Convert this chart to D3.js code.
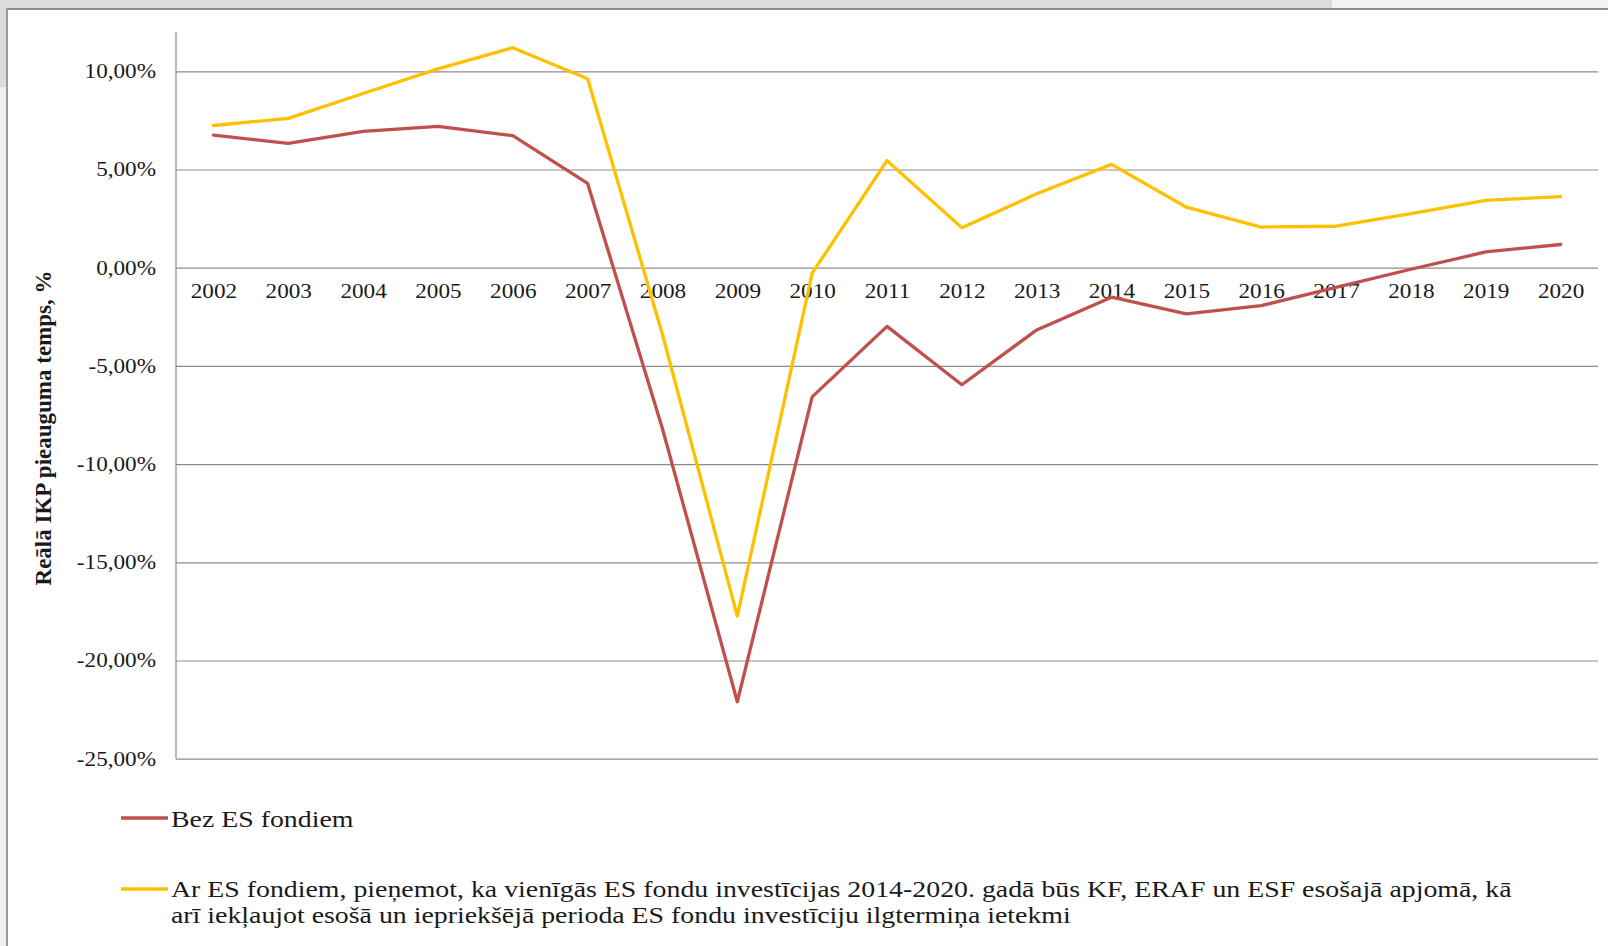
<!DOCTYPE html>
<html>
<head>
<meta charset="utf-8">
<script src="https://cdn.jsdelivr.net/npm/d3@7"></script>
<style>
  html, body { margin: 0; padding: 0; background: #ffffff; }
  svg { display: block; }
  text { font-family: "Liberation Serif", "Times New Roman", serif; fill: #1a1a1a; }
</style>
</head>
<body>
<svg id="chart" width="1608" height="946"></svg>
<script>
// ---------- data ----------
const years = ["2002","2003","2004","2005","2006","2007","2008","2009","2010","2011","2012","2013","2014","2015","2016","2017","2018","2019","2020"];
const bezES = [6.75, 6.33, 6.94, 7.20, 6.72, 4.29, -8.2, -22.1, -6.58, -2.99, -5.96, -3.17, -1.50, -2.35, -1.93, -1.00, -0.08, 0.80, 1.18];
const arES  = [7.24, 7.60, 8.87, 10.12, 11.20, 9.62, -3.4, -17.74, -0.28, 5.45, 2.03, 3.76, 5.26, 3.08, 2.07, 2.11, 2.75, 3.43, 3.62];
const yTicks = [-25, -20, -15, -10, -5, 0, 5, 10];
const yDomain = [-25, 12];
const seriesNames = ["Bez ES fondiem",
  ["Ar ES fondiem, pieņemot, ka vienīgās ES fondu investīcijas 2014-2020. gadā būs KF, ERAF un ESF esošajā apjomā, kā",
   "arī iekļaujot esošā un iepriekšējā perioda ES fondu investīciju ilgtermiņa ietekmi"]];
const seriesColors = ["#C0504D", "#FFC000"];
const yTitle = "Reālā IKP pieauguma temps, %";

// ---------- layout ----------
const svg = d3.select("#chart");
const plot = { left: 176, right: 1598, top: 32, bottom: 758.7 };
const SX = 1.16; // horizontal text stretch seen in the reference

// frame of the window
svg.append("rect").attr("x", 0).attr("y", 0).attr("width", 1608).attr("height", 9).attr("fill", "#dcdcdc");
svg.append("rect").attr("x", 1332).attr("y", 0).attr("width", 276).attr("height", 9).attr("fill", "#f2f2f2");
svg.append("rect").attr("x", 0).attr("y", 0).attr("width", 7).attr("height", 87).attr("fill", "#dcdcdc");
svg.append("rect").attr("x", 0).attr("y", 87).attr("width", 6).attr("height", 859).attr("fill", "#f0f0f0");
svg.append("line").attr("x1", 6).attr("x2", 1608).attr("y1", 9).attr("y2", 9).attr("stroke", "#8f8f8f").attr("stroke-width", 2);
svg.append("line").attr("x1", 7).attr("x2", 7).attr("y1", 8).attr("y2", 946).attr("stroke", "#9a9a9a").attr("stroke-width", 2);

// ---------- scales ----------
const x = d3.scalePoint().domain(years).range([plot.left, plot.right]).padding(0.5);
const y = d3.scaleLinear().domain(yDomain).range([plot.bottom, plot.top]);
const fmt = v => d3.format(".2f")(v).replace(".", ",").replace("−", "-") + "%";

// gridlines
const grid = svg.append("g").attr("transform", `translate(${plot.left},0)`)
  .call(d3.axisLeft(y).tickValues(yTicks).tickSize(-(plot.right - plot.left)).tickFormat(""));
grid.select(".domain").remove();
grid.selectAll(".tick line").attr("stroke", "#8c8c8c").attr("stroke-width", 1.2);

// vertical axis line
svg.append("line").attr("x1", plot.left).attr("x2", plot.left)
  .attr("y1", plot.top).attr("y2", plot.bottom).attr("stroke", "#8c8c8c").attr("stroke-width", 1.2);

// y tick labels
const yAxis = svg.append("g").attr("transform", `translate(${plot.left},0)`)
  .call(d3.axisLeft(y).tickValues(yTicks).tickSize(0).tickPadding(0).tickFormat(fmt));
yAxis.select(".domain").remove();
yAxis.selectAll(".tick text")
  .attr("x", -20 / SX)
  .attr("transform", `scale(${SX},1)`)
  .style("font-family", '"Liberation Serif", serif')
  .style("font-size", "20px")
  .attr("fill", "#1a1a1a");

// x category labels along the zero line
const xAxis = svg.append("g").attr("transform", `translate(0,${y(0)})`)
  .call(d3.axisBottom(x).tickSize(0).tickPadding(16));
xAxis.select(".domain").remove();
xAxis.selectAll(".tick text")
  .attr("transform", `scale(${SX},1)`)
  .style("font-family", '"Liberation Serif", serif')
  .style("font-size", "20px")
  .attr("fill", "#1a1a1a");

// y title
svg.append("text")
  .attr("transform", "translate(51,428) rotate(-90)")
  .attr("text-anchor", "middle")
  .style("font-size", "23px")
  .style("font-weight", "bold")
  .text(yTitle);

// ---------- lines ----------
const line = d3.line().x((d, i) => x(years[i])).y(d => y(d));
[bezES, arES].forEach((s, k) => {
  svg.append("path").datum(s)
    .attr("d", line)
    .attr("fill", "none")
    .attr("stroke", seriesColors[k])
    .attr("stroke-width", 3.3)
    .attr("stroke-linejoin", "round")
    .attr("stroke-linecap", "round");
});

// ---------- legend ----------
const legendRows = [
  { lineY: 818, baselines: [827] },
  { lineY: 889, baselines: [897, 923] }
];
legendRows.forEach((r, k) => {
  svg.append("line").attr("x1", 121).attr("x2", 168).attr("y1", r.lineY).attr("y2", r.lineY)
    .attr("stroke", seriesColors[k]).attr("stroke-width", 3.5);
  const lines = Array.isArray(seriesNames[k]) ? seriesNames[k] : [seriesNames[k]];
  lines.forEach((t, j) => {
    svg.append("text")
      .attr("transform", `translate(171,${r.baselines[j]}) scale(${SX},1)`)
      .style("font-size", "24px")
      .text(t);
  });
});
</script>
</body>
</html>
